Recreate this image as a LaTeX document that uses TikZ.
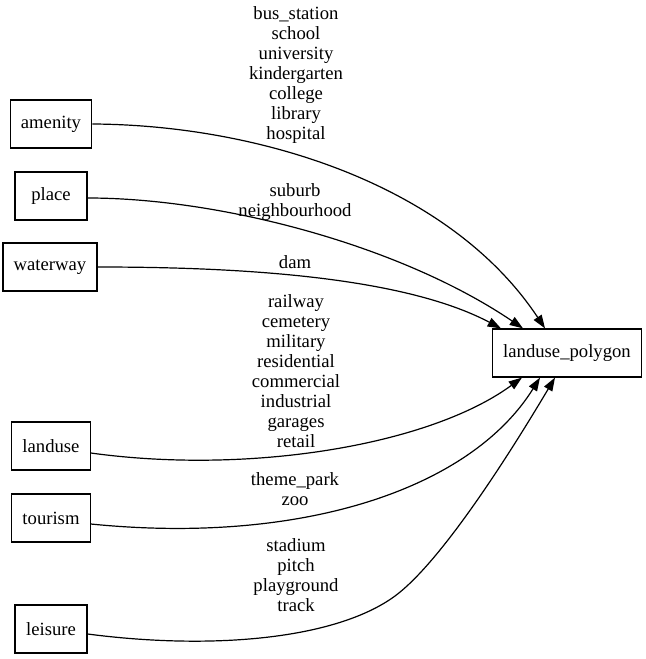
\documentclass[tikz,border=0pt]{standalone}
\usepackage{fontspec}
\setmainfont{LiberationSerif}[Extension=.ttf, UprightFont=*-Regular]
\usetikzlibrary{arrows.meta, calc}

\begin{document}
\begin{tikzpicture}[
    x=0.75pt, y=-0.75pt,
    key/.style={draw, line width=0.9pt, minimum width=54pt, minimum height=36pt, inner xsep=8pt, font=\rmfamily\fontsize{14}{15}\selectfont},
    tags/.style={align=center, inner sep=0pt, font=\rmfamily\fontsize{14}{15}\selectfont},
    link/.style={-{Triangle[length=10pt, width=7pt]}, line width=0.9pt}
]
    \useasboundingbox (0,0) rectangle (645,659);

    % source keys
    \node[key] (amenity)  at (51,124) {amenity};
    \node[key] (place)    at (51,196) {place};
    \node[key] (waterway) at (50,267) {waterway};
    \node[key] (landuse)  at (51,446) {landuse};
    \node[key] (tourism)  at (51,518) {tourism};
    \node[key] (leisure)  at (51,629) {leisure};

    % target table
    \node[key] (polygon) at (567,353) {landuse\_polygon};

    % arrow ends on the target
    \coordinate (inA) at ($(polygon.north)+(-22,0)$);
    \coordinate (inB) at ($(polygon.north)+(-44,0)$);
    \coordinate (inC) at ($(polygon.north)+(-66,0)$);
    \coordinate (inD) at ($(polygon.south)+(-45,0)$);
    \coordinate (inE) at ($(polygon.south)+(-27,0)$);
    \coordinate (inF) at ($(polygon.south)+(-12,0)$);

    % value lists
    \node[tags] (amenityTags)  at (296,75)  {bus\_station\\school\\university\\kindergarten\\college\\library\\hospital};
    \node[tags] (placeTags)    at (295,202) {suburb\\neighbourhood};
    \node[tags] (waterwayTags) at (295,262) {dam};
    \node[tags] (landuseTags)  at (296,371) {railway\\cemetery\\military\\residential\\commercial\\industrial\\garages\\retail};
    \node[tags] (tourismTags)  at (295,489) {theme\_park\\zoo};
    \node[tags] (leisureTags)  at (296,575) {stadium\\pitch\\playground\\track};

    \draw[link] (amenity.east) .. controls (260,125) and (450,185) .. (inA);
    \draw[link] ($(place.east)+(0,2)$) .. controls (220,198) and (400,245) .. (inB);
    \draw[link] (waterway.east) .. controls (230,267) and (400,275) .. (inC);
    \draw[link] ($(landuse.east)+(0,7)$) .. controls (250,475) and (430,445) .. (inD);
    \draw[link] ($(tourism.east)+(0,6)$) .. controls (300,545) and (470,490) .. (inE);
    \draw[link] ($(leisure.east)+(0,5)$) .. controls (210,650) and (335,640) .. (395,596)
        .. controls (445,559) and (519,438) .. (inF);
\end{tikzpicture}
\end{document}
